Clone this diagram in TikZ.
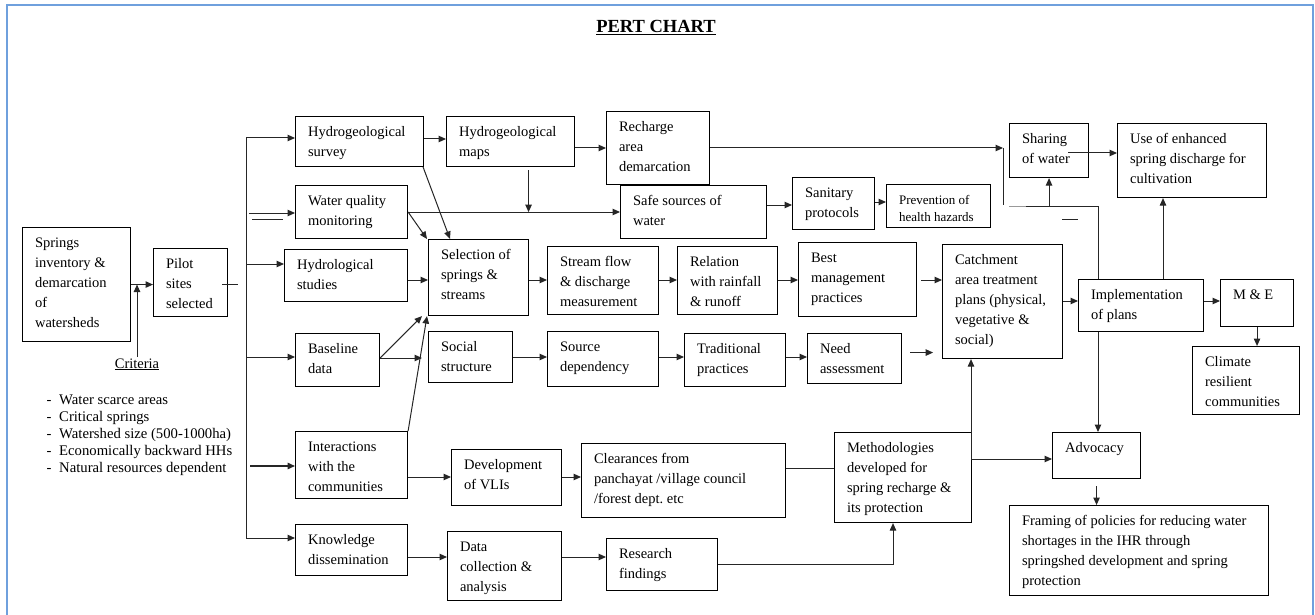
\documentclass[tikz,border=0pt]{standalone}
\usepackage{fontspec}
\setmainfont{Liberation Serif}
\usetikzlibrary{arrows.meta}
\definecolor{frameblue}{RGB}{111,160,221}
\frenchspacing
\newcommand\pertbox[7][]{%
  \pgfmathsetmacro\pbtw{#5-25}%
  \pgfmathsetmacro\pbtd{#6-29}%
  \node[box,#1,text width=\pbtw pt,text depth=\pbtd pt] (#2) at (#3,#4) {#7};}
\begin{document}
\begin{tikzpicture}[x=1pt,y=-1pt,
  box/.style={draw=black, line width=1.1pt, anchor=north west, align=flush left,
    inner xsep=12.5pt, inner ysep=9pt, text height=11pt,
    font=\fontsize{14.5}{20}\selectfont},
  ln/.style={line width=1pt, draw=black!85},
  arr/.style={ln, -{Triangle[length=7.5pt,width=6.5pt]}},
  frame/.style={line width=2pt, draw=frameblue}]
\useasboundingbox (0,0) rectangle (1315,615);
\draw[frame] (6.5,615) -- (6.5,5.5) -- (1313,5.5) -- (1313,615);

\node[anchor=base, inner sep=0pt, font=\fontsize{18.5}{22}\selectfont\bfseries] (title) at (656,33) {\underline{PERT CHART}};

% boxes
\pertbox{springs}{22}{227}{108}{114}{Springs\\inventory \&\\demarcation\\of\\watersheds}
\pertbox{pilot}{153}{248}{74}{68}{Pilot\\sites\\selected}
\pertbox{survey}{295}{116}{128}{50}{Hydrogeological\\survey}
\pertbox{maps}{446}{116}{128}{50}{Hydrogeological\\maps}
\pertbox{recharge}{606}{111}{103}{73}{Recharge\\area\\demarcation}
\pertbox{wq}{295}{185}{112}{53}{Water quality\\monitoring}
\pertbox{safe}{620}{185}{146}{53}{Safe sources of\\water}
\pertbox{sanitary}{792}{177}{82}{52}{Sanitary\\protocols}
\pertbox[font=\fontsize{13}{16.5}\selectfont]{prevention}{886}{184}{104}{43}{Prevention of\\health hazards}
\pertbox{hydro}{284}{249}{123}{52}{Hydrological\\studies}
\pertbox{selection}{428}{239}{100}{76}{Selection of\\springs \&\\streams}
\pertbox{stream}{547}{246}{111}{68}{Stream flow\\\& discharge\\measurement}
\pertbox{relation}{677}{246}{100}{68}{Relation\\with rainfall\\\& runoff}
\pertbox{best}{798}{242}{118}{74}{Best\\management\\practices}
\pertbox{catchment}{942}{244}{120}{114}{Catchment\\area treatment\\plans (physical,\\vegetative \&\\social)}
\pertbox{impl}{1078}{279}{125}{52}{Implementation\\of plans}
\pertbox{me}{1220}{279}{73}{47}{M \& E}
\pertbox{climate}{1192}{346}{107}{68}{Climate\\resilient\\communities}
\pertbox{sharing}{1009}{123}{79}{54}{Sharing\\of water}
\pertbox{use}{1117}{123}{149}{74}{Use of enhanced\\spring discharge for\\cultivation}
\pertbox{advocacy}{1052}{432}{88}{46}{Advocacy}
\pertbox{framing}{1009}{505}{259}{90}{Framing of policies for reducing water\\shortages in the IHR through\\springshed development and spring\\protection}
\pertbox{baseline}{295}{333}{84}{53}{Baseline\\data}
\pertbox{social}{428}{331}{84}{51}{Social\\structure}
\pertbox{source}{547}{331}{111}{55}{Source\\dependency}
\pertbox{trad}{684}{333}{101}{53}{Traditional\\practices}
\pertbox{need}{807}{333}{94}{50}{Need\\assessment}
\pertbox{inter}{295}{431}{112}{67}{Interactions\\with the\\communities}
\pertbox{dev}{451}{449}{110}{56}{Development\\of VLIs}
\pertbox{clear}{581}{443}{204}{74}{Clearances from\\panchayat /village council\\/forest dept. etc}
\pertbox{meth}{834}{432}{137}{90}{Methodologies\\developed for\\spring recharge \&\\its protection}
\pertbox{know}{295}{524}{112}{51}{Knowledge\\dissemination}
\pertbox{data}{447}{531}{114}{69}{Data\\collection \&\\analysis}
\pertbox{research}{606}{538}{111}{52}{Research\\findings}

% criteria
\node[anchor=base, inner sep=1pt, font=\fontsize{14.5}{20}\selectfont] (criteria) at (137,368) {\underline{Criteria}};
\node[anchor=base west, inner sep=0pt, text width=230pt, align=flush left, font=\fontsize{14.7}{17.2}\selectfont] (critlist) at (46.5,404)
  {\makebox[12.5pt][l]{-}Water scarce areas\\
   \makebox[12.5pt][l]{-}Critical springs\\
   \makebox[12.5pt][l]{-}Watershed size (500-1000ha)\\
   \makebox[12.5pt][l]{-}Economically backward HHs\\
   \makebox[12.5pt][l]{-}Natural resources dependent};

% left part
\draw[arr] (springs.east) -- (pilot.west |- springs.east);
\draw[arr] (criteria.north) -- (criteria.north |- springs.east);
\draw[ln] ([xshift=-6pt,yshift=-2pt]pilot.east) -- ++(16,0);

\coordinate (tkT) at (246,138);
\coordinate (tkB) at (246,538);
\coordinate (tkW) at (249,213);
\coordinate (tkW2) at (252,219);
\coordinate (tkI) at (250,466);
\draw[ln] (tkT) -- (tkB);
\draw[arr] (tkT) -- (survey.west |- tkT);
\draw[arr] (tkW) -- (wq.west |- tkW);
\draw[ln] (tkW2) -- ++(31,0);
\draw[arr] (tkT |- 0,264) -- (hydro.west |- 0,264);
\draw[arr] (tkT |- 0,357) -- (baseline.west |- 0,357);
\draw[arr, line width=1.5pt] (tkI) -- (inter.west |- tkI);
\draw[arr] (tkB) -- (know.west |- tkB);

% top rows
\draw[arr] (survey.east |- 0,139) -- (maps.west |- 0,139);
\draw[arr] ([xshift=-1pt]survey.south east) -- ([xshift=22pt]selection.north west);
\draw[arr] (wq.east |- 0,212) -- ([xshift=-1pt]selection.north west);
\draw[arr] (wq.east |- 0,212) -- (safe.west |- 0,212);
\draw[arr] ([xshift=18pt,yshift=-3pt]maps.south) -- ++(0,42);
\draw[arr] (maps.east |- 0,148) -- (recharge.west |- 0,148);
\coordinate (rj) at (1003,148);
\draw[arr] (recharge.east |- rj) -- (rj);
\draw[ln] (rj) -- ++(0,57);
\draw[arr] (safe.east |- 0,205) -- (sanitary.west |- 0,205);
\draw[arr] (sanitary.east |- 0,202) -- (prevention.west |- 0,202);

% right part
\coordinate (lp) at (1098,206);
\coordinate (lpe) at (1026,206);
\draw[ln] (impl.north -| lp) -- (lp) -- (lpe);
\draw[ln, draw=black!40] (lpe) -- (sharing.west |- lpe);
\draw[arr] (sharing.south |- lp) -- (sharing.south);
\coordinate (dsh) at (1062,219);
\draw[ln] (dsh) -- (impl.west |- dsh);
\coordinate (shs) at (1068,153);
\draw[arr] (shs) -- (use.west |- shs);
\draw[arr] (impl.north -| 1163,0) -- (use.south -| 1163,0);
\draw[arr] (impl.east |- 0,301) -- (me.west |- 0,301);
\draw[arr] (me.south) -- (me.south |- climate.north);
\draw[arr] (catchment.east |- 0,301) -- (impl.west |- 0,301);
\draw[arr] (impl.south -| lp) -- (advocacy.north -| lp);
\coordinate (mj) at (971,459);
\draw[arr] (mj) -- (catchment.south -| mj);
\draw[arr] (mj) -- (advocacy.west |- mj);
\draw[arr] ([yshift=-7pt]advocacy.south) -- (framing.north -| advocacy.south);

% middle rows
\draw[arr] (hydro.east |- 0,280) -- (selection.west |- 0,280);
\draw[arr] (selection.east |- 0,280) -- (stream.west |- 0,280);
\draw[arr] (stream.east |- 0,280) -- (relation.west |- 0,280);
\draw[arr] (relation.east |- 0,280) -- (best.west |- 0,280);
\coordinate (bc) at (921,280);
\draw[arr] (bc) -- (catchment.west |- bc);
\draw[arr] (baseline.east |- 0,358) -- ([xshift=-6pt]selection.south west);
\coordinate (bs) at (422,358);
\draw[arr] (baseline.east |- bs) -- (bs);
\draw[arr] (social.east |- 0,357) -- (source.west |- 0,357);
\draw[arr] (source.east |- 0,357) -- (trad.west |- 0,357);
\draw[arr] (trad.east |- 0,357) -- (need.west |- 0,357);
\draw[arr] ([xshift=8pt,yshift=6pt]need.east) -- ++(23,0);
\draw[arr] (inter.north east) -- ([xshift=-1pt]selection.south west);
\draw[arr] (inter.east |- 0,477) -- (dev.west |- 0,477);
\draw[arr] (dev.east |- 0,477) -- (clear.west |- 0,477);
\draw[ln] (clear.east |- 0,468) -- (meth.west |- 0,468);
\draw[arr] (know.east |- 0,557) -- (data.west |- 0,557);
\draw[arr] (data.east |- 0,557) -- (research.west |- 0,557);
\draw[arr] (research.east |- 0,564) -| (meth.south -| 893,0);
\end{tikzpicture}
\end{document}
